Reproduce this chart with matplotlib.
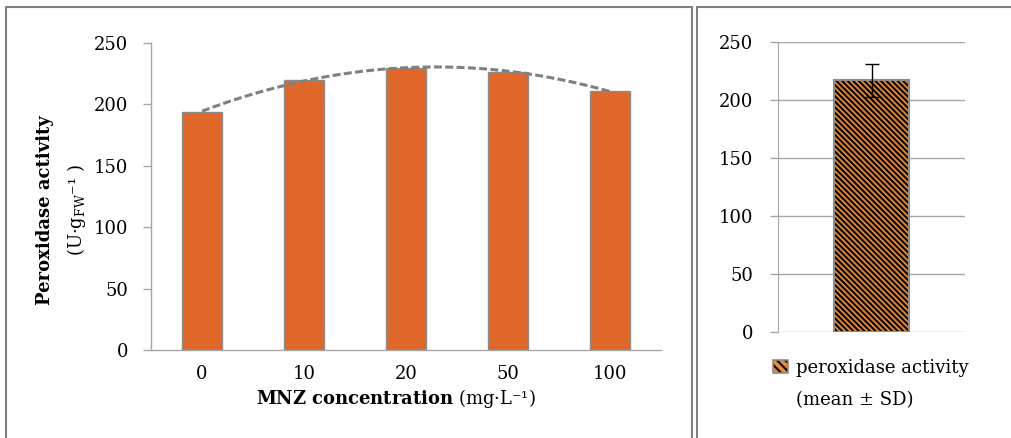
import numpy as np
import matplotlib
matplotlib.use("Agg")
import matplotlib.pyplot as plt
from matplotlib.patches import Rectangle, Patch

plt.rcParams['font.family'] = ['DejaVu Serif']
plt.rcParams['mathtext.fontset'] = 'dejavuserif'
plt.rcParams['hatch.linewidth'] = 1.5

# ---- data ----
concentrations = ['0', '10', '20', '50', '100']
peroxidase = [194, 220, 230, 226, 211]
yticks = [0, 50, 100, 150, 200, 250]
mean_label = 'peroxidase activity'
mean_value = [217]
mean_sd = [14]

W, H = 1011, 438
fig = plt.figure(figsize=(W / 100, H / 100), dpi=100)

def px_axes(x0, y0, x1, y1):
    return fig.add_axes([x0 / W, 1 - y1 / H, (x1 - x0) / W, (y1 - y0) / H])

GREY = '#8c8c8c'
AXGREY = '#a6a6a6'
ORANGE = '#E0672A'
ORANGE2 = '#EE8A2C'
HATCH = '\\\\\\\\\\\\'
FS = 13

# panel borders
fig.patches.append(Rectangle((6 / W, -0.05), (692 - 6) / W, 1.05 - 7 / H,
                             transform=fig.transFigure, fill=False,
                             edgecolor='#808080', linewidth=1.5))
fig.patches.append(Rectangle((697 / W, -0.05), 0.5, 1.05 - 7 / H,
                             transform=fig.transFigure, fill=False,
                             edgecolor='#808080', linewidth=1.5))

# ---- left panel ----
ax = px_axes(151, 43, 661, 350)
x = np.arange(len(concentrations))
ax.bar(x, peroxidase, width=0.4, color=ORANGE, edgecolor=GREY, linewidth=1.0, zorder=2)
coef = np.polyfit(x, peroxidase, 2)
xs = np.linspace(x[0], x[-1], 200)
ax.plot(xs, np.polyval(coef, xs), color='#808080', linewidth=2.2,
        linestyle=(0, (2.6, 1.1)), zorder=3, dash_capstyle='butt')
ax.set_xlim(-0.5, len(x) - 0.5)
ax.set_ylim(0, 250)
ax.set_yticks(yticks)
ax.set_xticks(x)
ax.set_xticklabels(concentrations)
for s in ['top', 'right']:
    ax.spines[s].set_visible(False)
for s in ['left', 'bottom']:
    ax.spines[s].set_color(AXGREY)
    ax.spines[s].set_linewidth(1.0)
ax.tick_params(axis='y', length=5.8, width=1.0, color=AXGREY, pad=10.5, labelsize=FS)
ax.tick_params(axis='x', length=0, pad=11, labelsize=FS)

fig.text(45 / W, 1 - 210 / H, 'Peroxidase activity', rotation=90, ha='center',
         va='center', fontsize=FS, fontweight='bold')
fig.text(77 / W, 1 - 210 / H, r'(U·g$_{\rm FW}$⁻¹ )', rotation=90, ha='center',
         va='center', fontsize=FS)
fig.text(396 / W, 1 - 398 / H, r'$\mathbf{MNZ\ concentration}$ (mg·L⁻¹)',
         ha='center', va='center', fontsize=FS)

# ---- right panel ----
ax2 = px_axes(778, 42, 965, 332)
ax2.bar([0], mean_value, width=0.4, color=ORANGE2, edgecolor='black', linewidth=0,
        hatch=HATCH, zorder=2)
ax2.bar([0], mean_value, width=0.4, fill=False, edgecolor=GREY, linewidth=1.5, zorder=2.5)
ax2.errorbar([0], mean_value, yerr=mean_sd, fmt='none', ecolor='black',
             elinewidth=1.0, capsize=5, capthick=1.0, zorder=3)
ax2.set_xlim(-0.5, 0.5)
ax2.set_ylim(0, 250)
ax2.set_yticks(yticks)
ax2.set_xticks([])
ax2.yaxis.grid(True, color=AXGREY, linewidth=1.0, zorder=0)
ax2.set_axisbelow(True)
for s in ['top', 'right', 'bottom']:
    ax2.spines[s].set_visible(False)
ax2.spines['left'].set_color(AXGREY)
ax2.tick_params(axis='y', length=5.8, width=1.0, color=AXGREY, pad=12, labelsize=FS)

h_fill = Patch(facecolor=ORANGE2, edgecolor='black', hatch='\\\\\\\\', linewidth=0)
h_edge = Patch(fill=False, edgecolor=GREY, linewidth=1.2)
fig.legend([(h_fill, h_edge)], [mean_label], loc='center left',
           bbox_to_anchor=(773 / W, 1 - 368 / H), frameon=False, fontsize=FS,
           handlelength=0.85, handleheight=0.75, handletextpad=0.4, borderpad=0,
           borderaxespad=0)
fig.text(796 / W, 1 - 400 / H, '(mean ± SD)', ha='left', va='center', fontsize=FS)

fig.savefig('out.png', dpi=100)
